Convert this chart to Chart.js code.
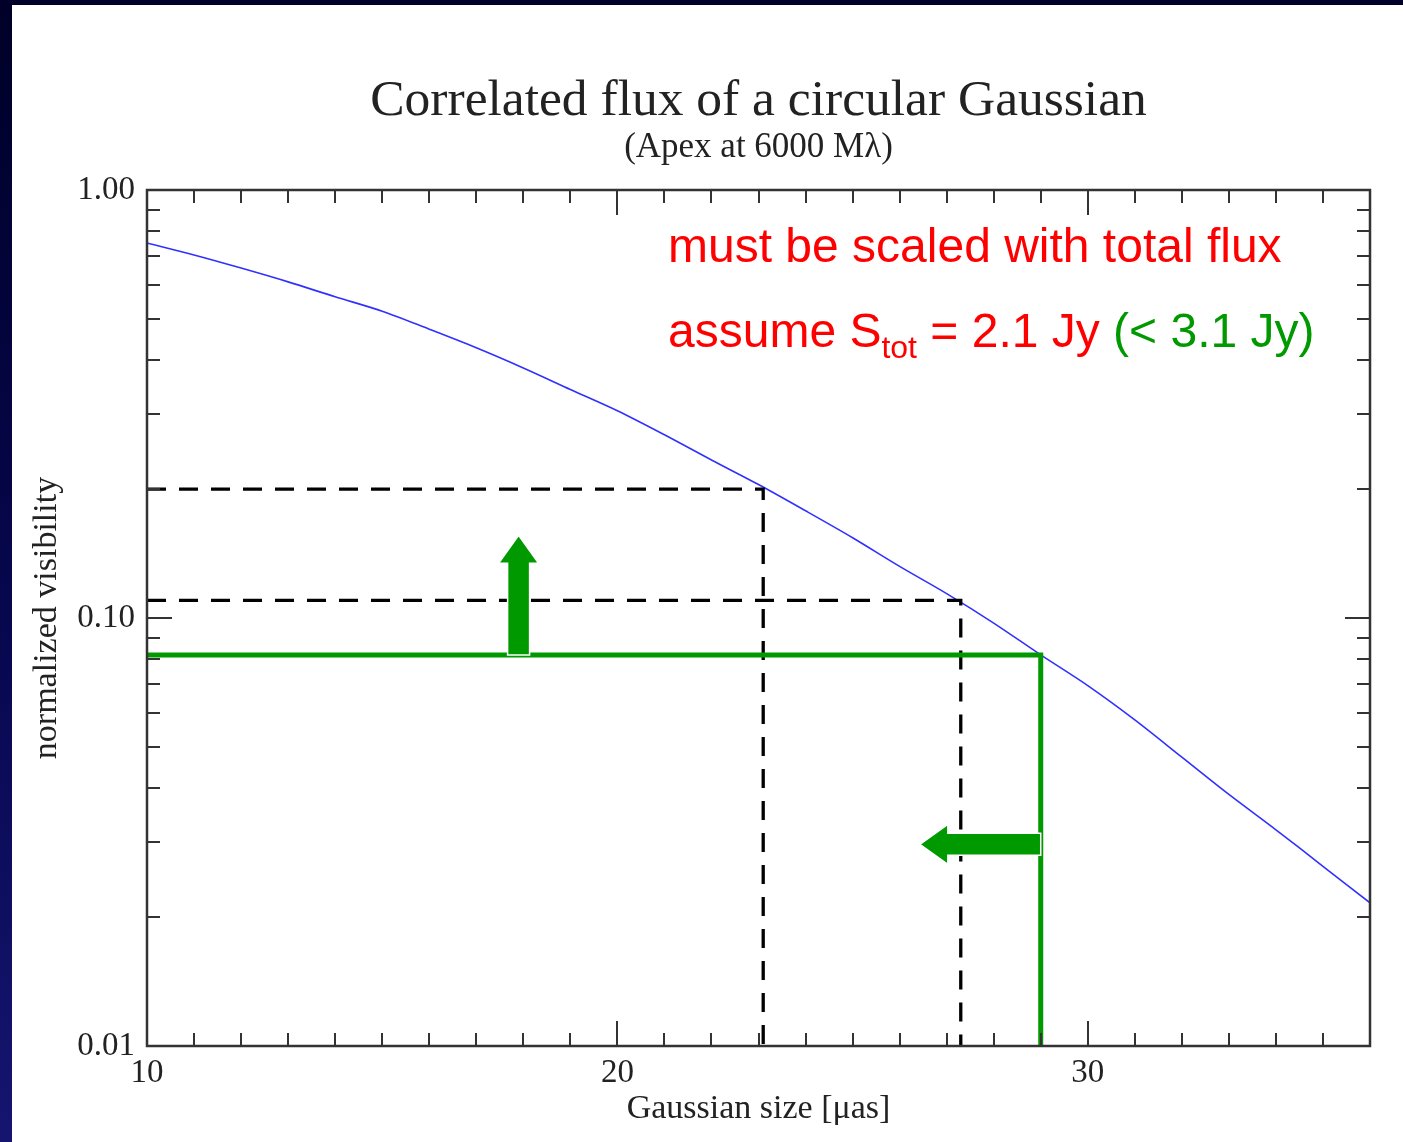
<!DOCTYPE html>
<html>
<head>
<meta charset="utf-8">
<title>Correlated flux of a circular Gaussian</title>
<script src="https://cdn.jsdelivr.net/npm/chart.js@4.4.0/dist/chart.umd.min.js"></script>
<style>
    html, body { margin: 0; padding: 0; }
    body {
        width: 1403px; height: 1142px; overflow: hidden;
        background: linear-gradient(to bottom, #000028 0%, #07074f 55%, #151570 100%);
    }
    #frame { position: absolute; left: 12px; top: 5px; width: 1391px; height: 1137px; background: #fff; }
</style>
</head>
<body>
<div id="frame"><canvas id="fluxChart" width="1391" height="1137"></canvas></div>
<script>
// Gaussian size [µas] and normalized visibility
const gaussianSizes = [10, 11, 12, 13, 14, 15, 16, 17, 18, 19, 20, 21, 22, 23,
                       24, 25, 26, 27, 28, 29, 30, 31, 32, 33, 34, 35, 36];
const visibilities = [0.752, 0.705, 0.657, 0.610, 0.563, 0.521, 0.473, 0.428, 0.384, 0.342,
                      0.305, 0.268, 0.234, 0.205, 0.178, 0.154, 0.132, 0.114, 0.0973, 0.082,
                      0.0695, 0.0578, 0.0473, 0.0387, 0.0320, 0.0263, 0.0216];

// Dashed read-off lines (size, visibility level)
const cutSizes = [23.1, 27.3];
const cutLevels = [0.2, 0.11];

// Green limit line
const limitSize = 29;
const limitLevel = 0.082;

// Green arrows: up arrow at fixed size, left arrow at fixed level
const upArrowSize = 17.9;
const upArrowLevels = [0.082, 0.156];
const leftArrowLevel = 0.0296;
const leftArrowSizes = [29, 26.43];

// Axis labels
const xTickLabels = [10, 20, 30];
const yDecades = [0.01, 0.1, 1];

const SERIF = '"Liberation Serif", "DejaVu Serif", serif';
const SANS = '"Liberation Sans", Arial, sans-serif';
const GREEN = '#009900';

function cornerLine(size, level) {
    return [{x: 10, y: level}, {x: size, y: level}, {x: size, y: 0.01}];
}

function drawArrow(ctx, x0, y0, x1, y1) {
    const shaft = 22, head = 40, headLen = 28;
    const len = Math.hypot(x1 - x0, y1 - y0);
    ctx.save();
    ctx.translate(x0, y0);
    ctx.rotate(Math.atan2(y1 - y0, x1 - x0));
    ctx.beginPath();
    ctx.moveTo(0, -shaft / 2);
    ctx.lineTo(len - headLen, -shaft / 2);
    ctx.lineTo(len - headLen, -head / 2);
    ctx.lineTo(len, 0);
    ctx.lineTo(len - headLen, head / 2);
    ctx.lineTo(len - headLen, shaft / 2);
    ctx.lineTo(0, shaft / 2);
    ctx.closePath();
    ctx.fillStyle = GREEN;
    ctx.fill();
    ctx.strokeStyle = '#fff';
    ctx.lineWidth = 1.5;
    ctx.stroke();
    ctx.restore();
}

// Arrows on top of the lines
const arrowPlugin = {
    id: 'arrows',
    afterDatasetsDraw(chart) {
        const {ctx, scales: {x, y}} = chart;
        const ux = x.getPixelForValue(upArrowSize);
        drawArrow(ctx, ux, y.getPixelForValue(upArrowLevels[0]), ux, y.getPixelForValue(upArrowLevels[1]));
        const ly = y.getPixelForValue(leftArrowLevel);
        drawArrow(ctx, x.getPixelForValue(leftArrowSizes[0]), ly, x.getPixelForValue(leftArrowSizes[1]), ly);
    }
};

// Frame, inward ticks on all four sides, titles and annotation text
const framePlugin = {
    id: 'frame',
    afterDraw(chart) {
        const {ctx, chartArea: a, scales: {x, y}} = chart;
        ctx.save();
        ctx.strokeStyle = '#333';
        ctx.lineWidth = 2;
        ctx.beginPath();
        x.ticks.forEach(t => {
            const px = Math.round(x.getPixelForValue(t.value));
            const len = xTickLabels.includes(t.value) ? 25 : 13;
            ctx.moveTo(px, a.bottom); ctx.lineTo(px, a.bottom - len);
            ctx.moveTo(px, a.top); ctx.lineTo(px, a.top + len);
        });
        y.ticks.forEach(t => {
            const py = Math.round(y.getPixelForValue(t.value));
            const major = Math.abs(Math.log10(t.value) - Math.round(Math.log10(t.value))) < 1e-9;
            const len = major ? 25 : 13;
            ctx.moveTo(a.left, py); ctx.lineTo(a.left + len, py);
            ctx.moveTo(a.right, py); ctx.lineTo(a.right - len, py);
        });
        ctx.stroke();
        ctx.lineWidth = 2.5;
        ctx.strokeRect(a.left, a.top, a.width, a.height);

        const cx = (a.left + a.right) / 2;
        ctx.fillStyle = '#222';
        ctx.textAlign = 'center';
        ctx.textBaseline = 'alphabetic';
        ctx.font = '51.5px ' + SERIF;
        ctx.fillText('Correlated flux of a circular Gaussian', cx, 110);
        ctx.font = '35px ' + SERIF;
        ctx.fillText('(Apex at 6000 M\u03bb)', cx, 152);
        ctx.font = '34px ' + SERIF;
        ctx.fillText('Gaussian size [\u03bcas]', cx, 1113);

        ctx.save();
        ctx.translate(35, (a.top + a.bottom) / 2);
        ctx.rotate(-Math.PI / 2);
        ctx.textBaseline = 'middle';
        ctx.fillText('normalized visibility', 0, 0);
        ctx.restore();

        // annotation text
        const tx = a.left + 521;
        ctx.textAlign = 'left';
        ctx.textBaseline = 'alphabetic';
        ctx.font = '48px ' + SANS;
        ctx.fillStyle = '#ff0000';
        ctx.fillText('must be scaled with total flux', tx, a.top + 72);
        const by = a.top + 157;
        let px = tx;
        ctx.fillText('assume S', px, by);
        px += ctx.measureText('assume S').width;
        ctx.font = '32px ' + SANS;
        ctx.fillText('tot', px, by + 11);
        px += ctx.measureText('tot').width;
        ctx.font = '48px ' + SANS;
        ctx.fillText(' = 2.1 Jy ', px, by);
        px += ctx.measureText(' = 2.1 Jy ').width;
        ctx.fillStyle = GREEN;
        ctx.fillText('(< 3.1 Jy)', px, by);
        ctx.restore();
    }
};

new Chart(document.getElementById('fluxChart').getContext('2d'), {
    type: 'line',
    data: {
        datasets: [{
            data: gaussianSizes.map((s, i) => ({x: s, y: visibilities[i]})),
            borderColor: '#3030ff',
            borderWidth: 1.6,
            pointRadius: 0,
            tension: 0.3,
            order: 3
        }, {
            data: cornerLine(cutSizes[0], cutLevels[0]),
            borderColor: '#000',
            borderWidth: 3.3,
            borderDash: [19, 13],
            pointRadius: 0,
            order: 2
        }, {
            data: cornerLine(cutSizes[1], cutLevels[1]),
            borderColor: '#000',
            borderWidth: 3.3,
            borderDash: [19, 13],
            pointRadius: 0,
            order: 2
        }, {
            data: cornerLine(limitSize, limitLevel),
            borderColor: GREEN,
            borderWidth: 5,
            pointRadius: 0,
            order: 1
        }]
    },
    options: {
        responsive: false,
        animation: false,
        layout: {padding: {top: 185, right: 33, left: 0, bottom: 0}},
        plugins: {
            legend: {display: false},
            tooltip: {enabled: false},
            title: {display: false}
        },
        scales: {
            x: {
                type: 'linear',
                min: 10,
                max: 36,
                grid: {display: false, drawTicks: false},
                border: {display: false},
                ticks: {
                    stepSize: 1,
                    autoSkip: false,
                    maxRotation: 0,
                    padding: 8,
                    color: '#222',
                    font: {family: SERIF, size: 33},
                    callback: v => xTickLabels.includes(v) ? String(v) : ''
                },
                afterFit: scale => { scale.height = 96; }
            },
            y: {
                type: 'logarithmic',
                min: 0.01,
                max: 1,
                grid: {display: false, drawTicks: false},
                border: {display: false},
                afterBuildTicks: scale => {
                    const ticks = [];
                    yDecades.forEach(d => {
                        for (let m = 1; m <= 9; m++) {
                            const v = +(d * m).toPrecision(3);
                            if (v <= 1) ticks.push({value: v});
                        }
                    });
                    scale.ticks = ticks;
                },
                ticks: {
                    autoSkip: false,
                    padding: 12,
                    color: '#222',
                    font: {family: SERIF, size: 33},
                    callback: v => yDecades.some(d => Math.abs(d - v) < 1e-9) ? v.toFixed(2) : ''
                },
                afterFit: scale => { scale.width = 135; }
            }
        }
    },
    plugins: [arrowPlugin, framePlugin]
});
</script>
</body>
</html>
